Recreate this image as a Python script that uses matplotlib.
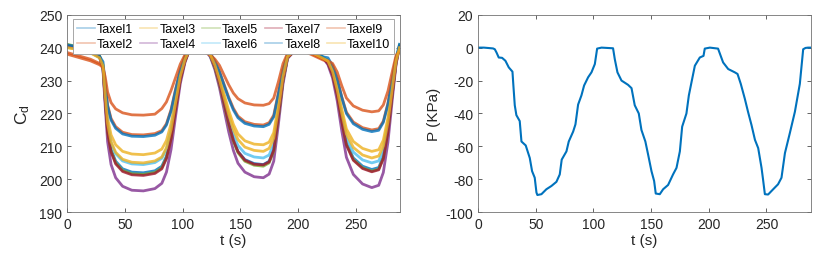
import matplotlib
matplotlib.use("Agg")
import matplotlib.pyplot as plt

plt.rcParams['font.family'] = ['Liberation Sans', 'DejaVu Sans']
plt.rcParams['axes.unicode_minus'] = False
plt.rcParams['xtick.direction'] = 'in'
plt.rcParams['ytick.direction'] = 'in'
plt.rcParams['xtick.top'] = True
plt.rcParams['ytick.right'] = True

# ---- left panel: capacitance of each taxel ----
t_taxel = [0, 10, 20, 28, 31, 33, 35, 38, 42, 48, 56, 66, 76, 82, 86, 90, 94, 98, 102, 106,
           114, 120, 124, 128, 132, 136, 140, 144, 148, 154, 162, 170, 175, 179, 183, 187, 191, 198, 206, 214,
           222, 226, 230, 234, 238, 242, 248, 256, 264, 270, 274, 278, 282, 285, 288]

taxel1 = [240.5, 239.8, 238.8, 237.2, 234, 224, 215, 209, 205.5, 203.2,
          202.2, 202, 202.6, 204, 207, 213, 222, 230.5, 236, 239.5,
          240.2, 239.3, 237.5, 234, 229, 223, 217, 212, 208.5, 206,
          204.8, 204.5, 205.5, 209, 219, 230, 237, 239.5, 239.5, 238.5,
          237, 235.5, 232, 226, 218, 211, 206.5, 204, 203, 203.6,
          207, 215, 227, 235.5, 240.5]
taxel2 = [238.5, 237.5, 236.5, 235.2, 234.5, 228.8, 222.6, 218.5, 216, 214.3,
          213.6, 213.5, 213.9, 214.8, 216.9, 221.2, 227.5, 233.4, 237.3, 239.3,
          239, 238.5, 238, 235.8, 232.7, 228.8, 224.9, 221.6, 219.2, 217.5,
          216.7, 216.5, 217.2, 219.5, 226.2, 233.4, 237.8, 239, 239, 237.8,
          236.5, 235.8, 234.5, 230.5, 225, 220.4, 217.4, 215.7, 215, 215.4,
          217.7, 223.1, 231.2, 236.8, 239.5]
taxel3 = [240, 239.5, 238.5, 237, 234.9, 226.3, 218.6, 213.5, 210.5, 208.5,
          207.7, 207.5, 208, 209.2, 211.8, 216.9, 224.6, 231.9, 236.6, 239.6,
          239.8, 239, 237.9, 235, 230.9, 225.9, 220.9, 216.7, 213.8, 211.7,
          210.7, 210.5, 211.3, 214.2, 222.5, 231.7, 237.5, 239.3, 239.2, 238.2,
          236.8, 236.2, 233.2, 228.1, 221.3, 215.3, 211.5, 209.4, 208.5, 209,
          211.9, 218.7, 228.9, 236.2, 240]
taxel4 = [240.8, 240, 239, 237.5, 233.1, 221.7, 211.4, 204.5, 200.5, 197.9,
          196.7, 196.5, 197.2, 198.8, 202.2, 209.1, 219.4, 229.1, 235.4, 239.4,
          240, 239, 237.2, 233.3, 227.8, 221.1, 214.4, 208.8, 204.9, 202.2,
          200.8, 200.5, 201.6, 205.5, 216.6, 228.9, 236.7, 239.5, 239.4, 238.3,
          236.8, 234.8, 230.8, 223.9, 214.7, 206.7, 201.5, 198.6, 197.5, 198.2,
          202.1, 211.3, 225.1, 234.8, 240.5]
taxel5 = [241, 240.2, 239.2, 237.6, 233.9, 223.8, 214.6, 208.6, 205, 202.7,
          201.7, 201.5, 202.1, 203.5, 206.6, 212.6, 221.7, 230.4, 235.9, 239.5,
          240, 239.2, 237.5, 233.9, 228.8, 222.8, 216.7, 211.6, 208.1, 205.5,
          204.3, 204, 205, 208.6, 218.7, 229.9, 237, 239.5, 239.3, 238.4,
          237, 235.4, 231.9, 225.8, 217.7, 210.6, 206, 203.5, 202.5, 203.1,
          206.5, 214.6, 226.8, 235.4, 240.8]
taxel6 = [240.2, 239.6, 238.6, 237, 234.4, 225.1, 216.6, 211, 207.8, 205.6,
          204.7, 204.5, 205.1, 206.4, 209.2, 214.8, 223.2, 231.1, 236.3, 239.5,
          240, 239.2, 237.6, 234.3, 229.6, 224, 218.3, 213.6, 210.3, 207.9,
          206.8, 206.5, 207.4, 210.7, 220.2, 230.6, 237.2, 239.4, 239.3, 238.3,
          236.9, 235.7, 232.4, 226.8, 219.2, 212.6, 208.3, 205.9, 205, 205.6,
          208.8, 216.3, 227.7, 235.7, 240.2]
taxel7 = [240.5, 239.8, 238.8, 237.2, 233.8, 223.5, 214.3, 208.3, 204.7, 202.4,
          201.4, 201.2, 201.8, 203.2, 206.3, 212.3, 221.4, 230.2, 235.8, 239.3,
          239.8, 239, 237.6, 234.1, 229.1, 223.1, 217, 211.9, 208.4, 205.8,
          204.6, 204.4, 205.3, 208.9, 219, 230.1, 237, 239.2, 239.1, 238,
          236.6, 235.2, 231.7, 225.6, 217.5, 210.4, 205.8, 203.3, 202.3, 202.9,
          206.3, 214.4, 226.6, 235.2, 240.3]
taxel8 = [240.8, 240.2, 239, 237.4, 235.7, 228.6, 222.2, 218, 215.5, 213.8,
          213.1, 213, 213.4, 214.4, 216.5, 220.8, 227.2, 233.2, 237.2, 239.6,
          240.5, 239.6, 238.3, 235.9, 232.6, 228.5, 224.5, 221.1, 218.7, 217,
          216.2, 216, 216.7, 219, 225.8, 233.2, 238, 240, 239.8, 238.8,
          237.2, 236.9, 234.5, 230.4, 224.8, 220, 216.9, 215.2, 214.5, 214.9,
          217.3, 222.8, 231, 236.9, 241]
taxel9 = [238, 237, 236, 234.8, 234, 231, 226.5, 223.3, 221.4, 220.2,
          219.6, 219.5, 219.8, 221.5, 223.5, 227, 231, 235, 237.8, 239,
          239, 238.4, 237.8, 236.5, 234.6, 231.6, 228.7, 226.2, 224.5, 223.2,
          222.6, 222.5, 223, 224.7, 229.6, 235.1, 238.3, 239, 238.8, 237.5,
          236.2, 236, 235.2, 232.6, 228.4, 224.7, 222.3, 221, 220.5, 220.8,
          222.6, 226.8, 233.1, 237.6, 239]
taxel10 = [240, 239.4, 238.4, 236.9, 234.5, 225.3, 217, 211.4, 208.2, 206.1,
           205.2, 205, 205.6, 206.8, 209.6, 215.1, 223.4, 231.3, 236.3, 239.5,
           239.7, 239, 237.8, 234.7, 230.2, 224.9, 219.6, 215.2, 212.1, 209.8,
           208.8, 208.5, 209.4, 212.5, 221.4, 231.1, 237.3, 239.3, 239.1, 238.1,
           236.7, 235.9, 232.8, 227.3, 220.1, 213.8, 209.7, 207.4, 206.5, 207.1,
           210.1, 217.4, 228.2, 235.9, 240]

taxels = [taxel1, taxel2, taxel3, taxel4, taxel5, taxel6, taxel7, taxel8, taxel9, taxel10]
taxel_names = ['Taxel%d' % (i + 1) for i in range(10)]

# ---- right panel: applied pressure ----
p_t = [0, 5, 10, 13, 14.5, 16, 17.9, 20.8, 23.7, 26.6,
       29.8, 30.6, 31.8, 33.2, 36.1, 37.6, 41.3, 44.8, 46.8, 49.1,
       50.6, 51.4, 54.9, 59.2, 63.6, 67.9, 70.8, 72.5, 76.6, 78.6,
       82.4, 84.4, 86.7, 89.6, 91.9, 95.4, 98.3, 101.2, 103.2, 107,
       117, 118.5, 120.8, 124.3, 130, 133, 135.8, 139.3, 141.6, 145,
       147.4, 150.3, 152.6, 154, 157.5, 160.4, 164.7, 169, 172, 174.9,
       176.9, 180.6, 182.7, 185, 187.9, 192.2, 195.4, 196.5, 200.9, 208,
       212.4, 216.8, 222.5, 224.9, 227.7, 231.2, 234, 237, 240, 242.8,
       245.7, 247, 248.6, 251.4, 255.8, 260, 263, 266, 270.2, 274.6,
       278.9, 281.8, 283.8, 286, 288]
p_val = [0, 0, -0.3, -0.5, -1, -3, -6, -6.2, -8, -12,
         -14.6, -23, -35, -41, -44.6, -57, -59.4, -67, -75, -79,
         -88, -89.5, -89, -86, -84, -81.5, -77, -68, -63, -57,
         -51, -46.6, -34.6, -29, -23, -18, -15, -10, -0.6, 0,
         -0.4, -7, -15, -20, -22.6, -24.6, -35, -40, -50, -57,
         -65, -75, -81, -88.6, -89, -86, -83.4, -77, -73, -63,
         -48, -40, -29, -21, -11, -6, -5, -0.6, 0, -0.6,
         -9, -13, -15, -16, -22, -31, -39, -47, -56, -61,
         -73, -80, -89, -89.2, -86, -83, -79, -64, -52, -39,
         -22, -1, -0.2, 0, 0]

colors = ['#0072BD', '#D95319', '#EDB120', '#7E2F8E', '#77AC30', '#4DBEEE', '#A2142F']

fig = plt.figure(figsize=(8.3, 2.55), dpi=100)
ax1 = fig.add_axes([0.081, 0.1635, 0.401, 0.775])
ax2 = fig.add_axes([0.576, 0.1635, 0.401, 0.775])

for i, vals in enumerate(taxels):
    ax1.plot(t_taxel, vals, color=colors[i % 7], lw=2.0, alpha=0.8, label=taxel_names[i])

ax1.set_xlim(0, 288.5)
ax1.set_ylim(190, 250)
ax1.set_xticks([0, 50, 100, 150, 200, 250])
ax1.set_yticks([190, 200, 210, 220, 230, 240, 250])
ax1.set_xlabel('t (s)', fontsize=11, color='#262626', labelpad=1)
ax1.set_ylabel(r'$\mathregular{C_d}$', fontsize=12.5, color='#262626', labelpad=5)

leg = ax1.legend(ncol=5, loc='upper center', bbox_to_anchor=(0.5, 0.99), fontsize=9,
                 fancybox=False, edgecolor='0.6', handlelength=1.4, handletextpad=0.2,
                 columnspacing=0.5, borderpad=0.3, labelspacing=0.25, framealpha=1,
                 borderaxespad=0.2)
leg.get_frame().set_linewidth(0.6)
for h in leg.get_lines():
    h.set_alpha(0.35)
    h.set_linewidth(1.2)

ax2.plot(p_t, p_val, color='#0072BD', lw=1.5)
ax2.set_xlim(0, 288.5)
ax2.set_ylim(-100, 20)
ax2.set_xticks([0, 50, 100, 150, 200, 250])
ax2.set_yticks([-100, -80, -60, -40, -20, 0, 20])
ax2.set_xlabel('t (s)', fontsize=11, color='#262626', labelpad=1)
ax2.set_ylabel('P (KPa)', fontsize=11, color='#262626', labelpad=3)

for ax in (ax1, ax2):
    ax.tick_params(labelsize=10, colors='#262626', length=3, width=0.5)
    for s in ax.spines.values():
        s.set_color('0.45')
        s.set_linewidth(0.6)

fig.savefig('out.png', dpi=100)
